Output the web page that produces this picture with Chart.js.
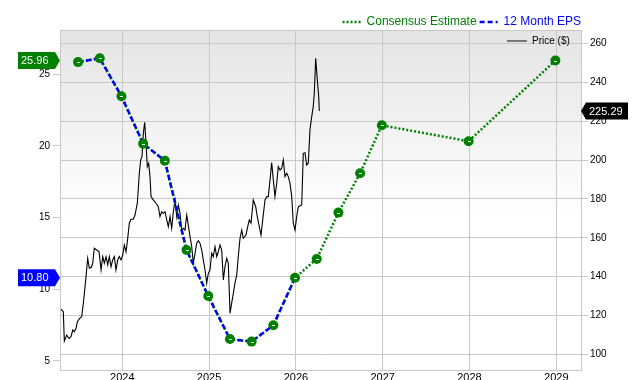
<!DOCTYPE html>
<html><head><meta charset="utf-8">
<script src="https://cdn.jsdelivr.net/npm/chart.js@4.4.1/dist/chart.umd.min.js"></script>
<style>html,body{margin:0;padding:0;background:#fff}#wrap{width:640px;height:380px}</style>
</head><body><div id="wrap"><canvas id="c" width="640" height="380"></canvas></div>
<script>
// ---- data ----
const consensusYears = [2023.49,2023.74,2023.99,2024.24,2024.49,2024.74,2024.99,2025.24,2025.49,2025.74,2025.99,2026.24,2026.49,2026.74,2026.99,2027.99,2028.99];
const consensusEps   = [25.85,26.12,23.47,20.16,18.97,12.74,9.53,6.53,6.35,7.49,10.80,12.12,15.35,18.09,21.44,20.33,25.96];
const epsYears  = [2023.49,2023.74,2023.99,2024.24,2024.49,2024.74,2024.99,2025.24,2025.49,2025.74,2025.99];
const epsValues = [25.85,26.12,23.47,20.16,18.97,12.74,9.53,6.53,6.35,7.49,10.80];
const priceYears = [2023.294,2023.320,2023.332,2023.359,2023.386,2023.409,2023.429,2023.447,2023.467,2023.482,
2023.505,2023.532,2023.551,2023.578,2023.601,2023.620,2023.643,2023.659,2023.677,2023.705,
2023.732,2023.755,2023.774,2023.793,2023.812,2023.832,2023.850,2023.870,2023.889,2023.908,
2023.927,2023.947,2023.965,2023.985,2024.005,2024.023,2024.043,2024.058,2024.081,2024.100,
2024.127,2024.146,2024.173,2024.196,2024.212,2024.227,2024.242,2024.258,2024.273,2024.288,
2024.304,2024.319,2024.331,2024.357,2024.388,2024.415,2024.434,2024.454,2024.472,2024.492,
2024.512,2024.530,2024.550,2024.569,2024.588,2024.607,2024.627,2024.645,2024.665,2024.684,
2024.703,2024.722,2024.742,2024.760,2024.780,2024.800,2024.818,2024.838,2024.857,2024.876,
2024.895,2024.915,2024.933,2024.953,2024.972,2024.991,2025.010,2025.030,2025.048,2025.068,
2025.088,2025.106,2025.126,2025.145,2025.164,2025.183,2025.203,2025.221,2025.241,2025.260,
2025.279,2025.298,2025.318,2025.336,2025.356,2025.376,2025.394,2025.425,2025.445,2025.463,
2025.483,2025.509,2025.537,2025.555,2025.578,2025.598,2025.618,2025.644,2025.664,2025.682,
2025.702,2025.721,2025.740,2025.759,2025.779,2025.797,2025.817,2025.836,2025.855,2025.874,
2025.894,2025.912,2025.932,2025.952,2025.970,2025.990,2026.009,2026.028,2026.067,2026.085,
2026.105,2026.124,2026.143,2026.162,2026.182,2026.200,2026.212,2026.228,2026.247,2026.263,
2026.270];
const prices = [123.2,121.9,106.8,109.9,108.2,109.1,112.5,111.6,113.4,116.8,
118.3,119.4,126.3,138.3,149.4,144.3,144.8,146.9,154.6,153.7,
152.8,143.4,150.3,146.9,150.3,146.0,150.3,145.1,148.6,150.3,
143.4,148.6,150.3,148.6,151.1,156.3,152.8,158.0,167.5,169.5,
169.5,171.7,177.8,193.2,200.1,201.8,213.8,219.5,208.7,196.6,
198.4,191.5,181.2,179.5,177.8,176.0,170.9,173.4,172.6,173.4,
169.2,165.7,170.9,164.9,173.4,179.5,170.9,176.9,172.6,164.0,
164.9,164.0,171.7,166.6,160.6,155.4,146.9,152.0,157.2,158.5,
157.2,153.7,148.6,143.4,136.6,141.7,143.4,152.0,150.3,155.4,
150.3,152.8,156.3,153.7,138.3,145.1,149.4,146.9,121.1,126.3,
131.4,136.6,140.8,150.3,159.7,164.0,159.7,161.4,165.7,169.2,
167.5,179.5,176.0,170.9,165.7,161.4,169.2,179.5,181.2,181.2,
189.8,198.7,189.8,181.2,188.1,196.6,194.9,195.8,200.1,191.5,
193.2,191.5,188.1,181.2,167.5,164.0,170.9,176.0,176.9,203.5,
203.8,197.5,198.4,215.5,222.3,227.5,234.4,252.4,241.2,232.6,
225.29];
const yearTicks  = [2024,2025,2026,2027,2028,2029];
const epsTicks   = [5,10,15,20,25];
const priceTicks = [100,120,140,160,180,200,220,240,260];
const consensusFlag = 25.96;
const epsFlag = 10.80;
const priceFlag = 225.29;

// ---- styling ----
const FONT = '"Liberation Sans", Arial, Helvetica, sans-serif';
const GREEN = '#008000', BLUE = '#0000ff', GRID = '#c8c8c8';
Chart.defaults.font.family = FONT;

const xy = (xs, ys) => xs.map((x,i) => ({x: x, y: ys[i]}));

const bgPlugin = {
  id: 'bg',
  beforeDraw(chart){
    const {ctx, chartArea: a} = chart;
    const g = ctx.createLinearGradient(0, a.top, 0, a.bottom);
    g.addColorStop(0, '#e4e4e4');
    g.addColorStop(0.55, '#ffffff');
    g.addColorStop(1, '#ffffff');
    ctx.save(); ctx.fillStyle = g; ctx.fillRect(a.left, a.top, a.right - a.left, a.bottom - a.top); ctx.restore();
  },
  beforeDatasetsDraw(chart){
    const {ctx, chartArea: a} = chart;
    ctx.save(); ctx.strokeStyle = GRID; ctx.lineWidth = 1;
    ctx.strokeRect(Math.round(a.left)+0.5, Math.round(a.top)+0.5, Math.round(a.right - a.left), Math.round(a.bottom - a.top));
    ctx.restore();
  },
  afterDatasetsDraw(chart){
    // small white dash inside each green marker
    const ctx = chart.ctx;
    ctx.save(); ctx.fillStyle = '#ffffff';
    chart.getDatasetMeta(0).data.forEach(p => { ctx.fillRect(Math.round(p.x) - 1, Math.round(p.y), 3, 1); });
    ctx.restore();
  }
};

const legendFit = {
  id: 'legendFit',
  beforeLayout(chart){
    const lg = chart.legend;
    if (lg && !lg._patched){
      const f = lg.fit;
      lg.fit = function(){ f.call(this); this.height = 17; };
      lg._patched = true;
    }
  },
  afterLayout(chart){ if (chart.legend) chart.legend.right = chart.chartArea.right + 3; }
};

const overlay = {
  id: 'overlay',
  afterDraw(chart){
    const ctx = chart.ctx;
    const yL = chart.scales.y, yR = chart.scales.y1;
    ctx.save();
    ctx.font = '11px ' + FONT; ctx.textBaseline = 'middle'; ctx.textAlign = 'left';
    function leftFlag(y, color, text){
      ctx.fillStyle = color; ctx.beginPath();
      ctx.moveTo(18, y-8.5); ctx.lineTo(55, y-8.5); ctx.lineTo(60, y); ctx.lineTo(55, y+8.5); ctx.lineTo(18, y+8.5);
      ctx.closePath(); ctx.fill();
      ctx.fillStyle = '#fff'; ctx.fillText(text, 21, y+0.5);
    }
    leftFlag(yL.getPixelForValue(consensusFlag), GREEN, consensusFlag.toFixed(2));
    leftFlag(yL.getPixelForValue(epsFlag), BLUE, epsFlag.toFixed(2));
    const yp = yR.getPixelForValue(priceFlag);
    ctx.fillStyle = '#000'; ctx.beginPath();
    ctx.moveTo(581, yp); ctx.lineTo(586, yp-8.5); ctx.lineTo(628, yp-8.5); ctx.lineTo(628, yp+8.5); ctx.lineTo(586, yp+8.5);
    ctx.closePath(); ctx.fill();
    ctx.fillStyle = '#fff'; ctx.fillText(priceFlag.toFixed(2), 589, yp+0.5);
    // Price legend
    ctx.strokeStyle = '#777'; ctx.lineWidth = 2; ctx.beginPath(); ctx.moveTo(507, 41); ctx.lineTo(527, 41); ctx.stroke();
    ctx.fillStyle = '#000'; ctx.font = '10px ' + FONT; ctx.fillText('Price ($)', 532, 41.5);
    ctx.restore();
  }
};

new Chart(document.getElementById('c'), {
  type: 'line',
  data: { datasets: [
    { label: 'points', data: xy(consensusYears, consensusEps), showLine: false, pointStyle: 'circle', pointRadius: 5, pointBackgroundColor: GREEN, pointBorderColor: GREEN, pointBorderWidth: 0, yAxisID: 'y' },
    { label: '12 Month EPS', data: xy(epsYears, epsValues), borderColor: BLUE, borderWidth: 2.5, borderDash: [5,3], pointRadius: 0, fill: false, yAxisID: 'y' },
    { label: 'Consensus Estimate', data: xy(consensusYears, consensusEps), borderColor: GREEN, borderWidth: 2.5, borderDash: [2,2], pointRadius: 0, fill: false, yAxisID: 'y' },
    { label: 'Price ($)', data: xy(priceYears, prices), borderColor: '#000', borderWidth: 1.1, pointRadius: 0, fill: false, yAxisID: 'y1' }
  ]},
  options: {
    responsive: false, animation: false, devicePixelRatio: 1,
    layout: { padding: { left: 0, right: 0, top: 13, bottom: 0 } },
    plugins: {
      tooltip: { enabled: false },
      legend: {
        position: 'top', align: 'end',
        labels: {
          usePointStyle: true, pointStyleWidth: 18, padding: 3,
          font: { family: FONT, size: 12 },
          generateLabels: () => [
            { text: 'Consensus Estimate', fontColor: GREEN, strokeStyle: GREEN, fillStyle: 'rgba(0,0,0,0)', lineWidth: 2.5, lineDash: [2,2], pointStyle: 'line', datasetIndex: 2 },
            { text: '12 Month EPS', fontColor: BLUE, strokeStyle: BLUE, fillStyle: 'rgba(0,0,0,0)', lineWidth: 2.5, lineDash: [5,3], pointStyle: 'line', datasetIndex: 1 }
          ]
        }
      }
    },
    scales: {
      x: {
        type: 'linear', min: 2023.282, max: 2029.285,
        afterBuildTicks: s => { s.ticks = yearTicks.map(v => ({ value: v })); },
        afterFit: s => { s.height = 10; },
        grid: { color: GRID, drawTicks: false },
        border: { display: false },
        ticks: { autoSkip: false, maxRotation: 0, padding: 1, color: '#000', font: { size: 11 }, callback: v => String(v) }
      },
      y: {
        position: 'left', min: 4.37, max: 28.09,
        afterBuildTicks: s => { s.ticks = epsTicks.map(v => ({ value: v })); },
        afterFit: s => { s.width = 60; },
        grid: { drawOnChartArea: false, color: GRID, tickLength: 7 },
        border: { color: GRID },
        ticks: { padding: 3, color: '#000', font: { size: 10 }, callback: v => String(v) }
      },
      y1: {
        position: 'right', min: 91.9, max: 267,
        afterBuildTicks: s => { s.ticks = priceTicks.map(v => ({ value: v })); },
        afterFit: s => { s.width = 59; },
        grid: { color: GRID, tickLength: 7 },
        border: { color: GRID },
        ticks: { padding: 2, color: '#000', font: { size: 10 }, callback: v => String(v) }
      }
    }
  },
  plugins: [bgPlugin, legendFit, overlay]
});
</script>
</body></html>
